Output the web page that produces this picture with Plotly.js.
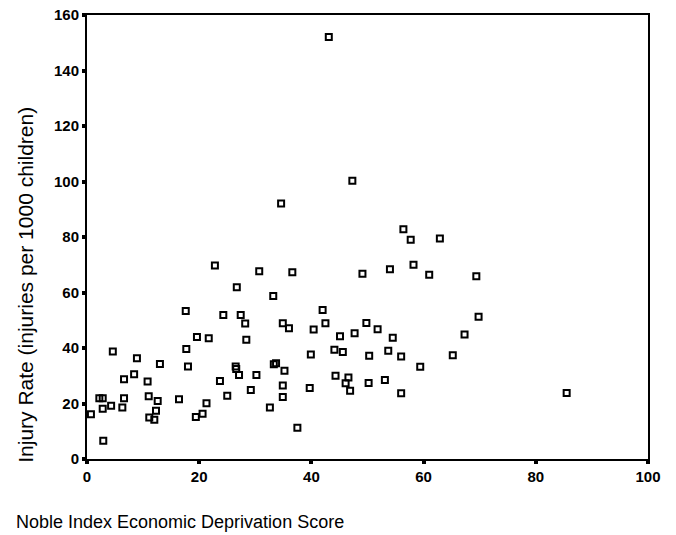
<!DOCTYPE html>
<html><head><meta charset="utf-8">
<script src="https://cdn.plot.ly/plotly-3.0.1.min.js"></script>
<style>body{margin:0;background:#fff}#chart{width:676px;height:535px}</style>
</head><body><div id="chart"></div>
<script>
const deprivationScore = [43.1,47.3,34.6,56.4,57.7,62.9,22.8,30.7,36.6,49.1,54.0,58.2,61.0,69.4,26.7,33.2,17.6,24.3,27.4,42.0,69.8,28.2,34.9,36.0,40.4,42.5,49.8,51.8,47.7,45.1,54.5,67.3,19.6,21.7,28.4,17.7,4.6,8.9,39.9,44.1,45.6,50.3,53.7,56.0,65.2,13.0,18.0,26.5,26.6,33.3,33.7,59.4,27.1,30.2,8.4,35.2,44.3,6.6,10.8,23.7,46.6,53.1,34.9,46.1,50.2,29.2,39.7,46.9,56.0,85.5,25.0,34.9,2.2,2.8,6.6,11.0,16.4,12.6,21.3,4.3,6.3,2.8,32.6,12.3,0.7,20.6,19.4,11.1,12.0,37.5,2.9];
const injuryRate = [152.1,100.3,92.1,82.8,79.0,79.5,69.7,67.7,67.3,66.8,68.4,70.0,66.4,65.9,61.9,58.7,53.3,51.9,51.9,53.7,51.3,48.8,48.9,47.1,46.7,48.9,49.0,46.8,45.3,44.2,43.7,44.9,44.0,43.5,43.0,39.6,38.7,36.3,37.7,39.4,38.6,37.2,39.0,36.9,37.4,34.2,33.3,33.3,32.4,34.1,34.5,33.2,30.3,30.3,30.5,31.8,30.0,28.7,27.9,28.1,29.4,28.5,26.5,27.3,27.4,24.9,25.6,24.6,23.7,23.8,22.8,22.3,21.9,21.9,21.9,22.6,21.5,20.9,20.1,19.2,18.6,18.1,18.6,17.4,16.1,16.3,15.1,15.0,14.1,11.3,6.6];
const xTicks = [0,20,40,60,80,100];
const yTicks = [0,20,40,60,80,100,120,140,160];
const xTitle = "Noble Index Economic Deprivation Score";
const yTitle = "Injury Rate (injuries per 1000 children)";

const tickFont = {family:"Liberation Sans, Arial, sans-serif", size:15, color:"#000", weight:"bold"};
const xTitleFont = {family:"Liberation Sans, Arial, sans-serif", size:18, color:"#000"};
const yTitleFont = {family:"Liberation Sans, Arial, sans-serif", size:21, color:"#000"};

Plotly.newPlot("chart", [{
  x: deprivationScore, y: injuryRate, type:"scatter", mode:"markers",
  marker:{symbol:"square-open", size:6, color:"#000", line:{width:2, color:"#000"}},
  hoverinfo:"skip"
}], {
  width:676, height:535,
  margin:{l:87, r:28, t:15, b:76},
  paper_bgcolor:"#fff", plot_bgcolor:"#fff",
  showlegend:false,
  xaxis:{range:[0,100], tickvals:xTicks, ticktext:xTicks.map(String), showgrid:false, zeroline:false,
    showline:true, linecolor:"#000", linewidth:2, mirror:true, ticks:"outside", ticklen:3, tickwidth:4, tickcolor:"#000",
    tickfont:tickFont},
  yaxis:{range:[0,160], tickvals:yTicks, ticktext:yTicks.map(String), showgrid:false, zeroline:false,
    showline:true, linecolor:"#000", linewidth:2, mirror:true, ticks:"outside", ticklen:3, tickwidth:4, tickcolor:"#000",
    tickfont:tickFont},
  annotations:[
    {text:xTitle, xref:"paper", yref:"paper", x:-0.131, y:-0.143, xanchor:"left", yanchor:"middle", showarrow:false, font:xTitleFont},
    {text:yTitle, xref:"paper", yref:"paper", x:-0.11, y:0.393, xanchor:"center", yanchor:"middle", textangle:-90, showarrow:false, font:yTitleFont}
  ]
}, {displayModeBar:false, staticPlot:true});
</script></body></html>
